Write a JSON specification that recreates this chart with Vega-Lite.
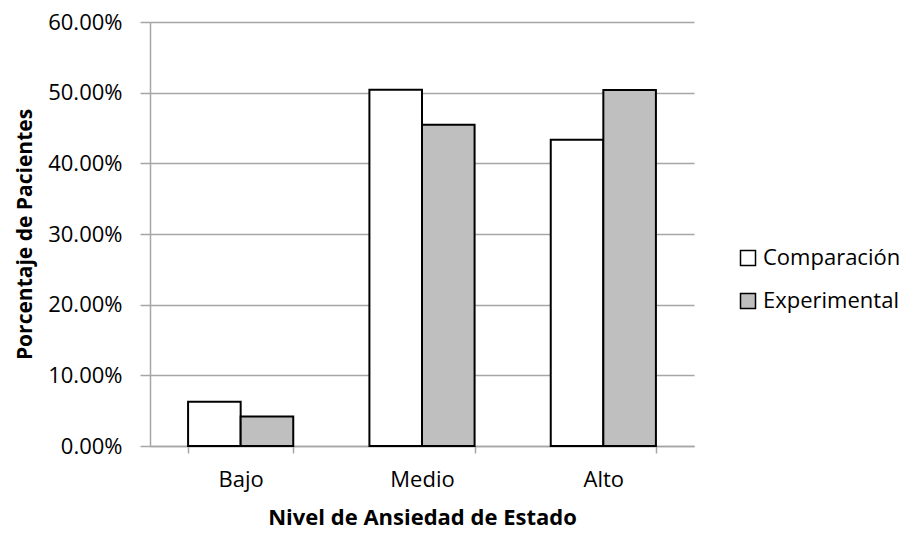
{
  "$schema": "https://vega.github.io/schema/vega-lite/v6.json",
  "autosize": "none",
  "width": 544,
  "height": 424,
  "padding": {"left": 150, "top": 22, "right": 213, "bottom": 87},
  "background": "white",
  "data": {
    "values": [
      {"nivel": "Bajo", "grupo": "Comparación", "pct": 0.0625},
      {"nivel": "Bajo", "grupo": "Experimental", "pct": 0.0417},
      {"nivel": "Medio", "grupo": "Comparación", "pct": 0.5040},
      {"nivel": "Medio", "grupo": "Experimental", "pct": 0.4545},
      {"nivel": "Alto", "grupo": "Comparación", "pct": 0.4335},
      {"nivel": "Alto", "grupo": "Experimental", "pct": 0.5038}
    ]
  },
  "mark": {"type": "bar", "stroke": "black", "strokeWidth": 2},
  "encoding": {
    "x": {
      "field": "nivel", "type": "nominal", "sort": ["Bajo", "Medio", "Alto"],
      "scale": {"paddingInner": 0.42, "paddingOuter": 0.21},
      "axis": {
        "title": "Nivel de Ansiedad de Estado", "labelAngle": 0, "tickBand": "extent",
        "tickSize": 7, "labelPadding": 16, "titlePadding": 17,
        "grid": false
      }
    },
    "xOffset": {"field": "grupo", "type": "nominal", "sort": ["Comparación", "Experimental"], "scale": {"paddingInner": 0, "paddingOuter": 0}},
    "y": {
      "field": "pct", "type": "quantitative",
      "scale": {"domain": [0, 0.6], "nice": false},
      "axis": {
        "title": "Porcentaje de Pacientes", "format": ".2%", "values": [0, 0.1, 0.2, 0.3, 0.4, 0.5, 0.6],
        "tickSize": 10, "labelPadding": 18, "titlePadding": 12, "titleFontSize": 21, "grid": true
      }
    },
    "fill": {
      "field": "grupo", "type": "nominal", "sort": ["Comparación", "Experimental"],
      "scale": {"range": ["#ffffff", "#bfbfbf"]},
      "legend": {
        "title": null, "orient": "none", "legendX": 587, "legendY": 225,
        "symbolType": "square", "symbolSize": 225, "symbolStrokeColor": "black", "symbolStrokeWidth": 1.5,
        "rowPadding": 21, "labelOffset": 4
      }
    }
  },
  "config": {
    "font": "Open Sans",
    "view": {"stroke": null},
    "axis": {
      "labelFont": "Open Sans", "labelFontSize": 22, "labelColor": "black",
      "titleFont": "Open Sans", "titleFontSize": 22, "titleFontWeight": "bold", "titleColor": "black",
      "domainColor": "#a6a6a6", "domainWidth": 1.5, "tickColor": "#a6a6a6", "tickWidth": 1.5,
      "gridColor": "#a6a6a6", "gridWidth": 1.5
    },
    "legend": {"labelFont": "Open Sans", "labelFontSize": 22, "labelColor": "black"}
  }
}
